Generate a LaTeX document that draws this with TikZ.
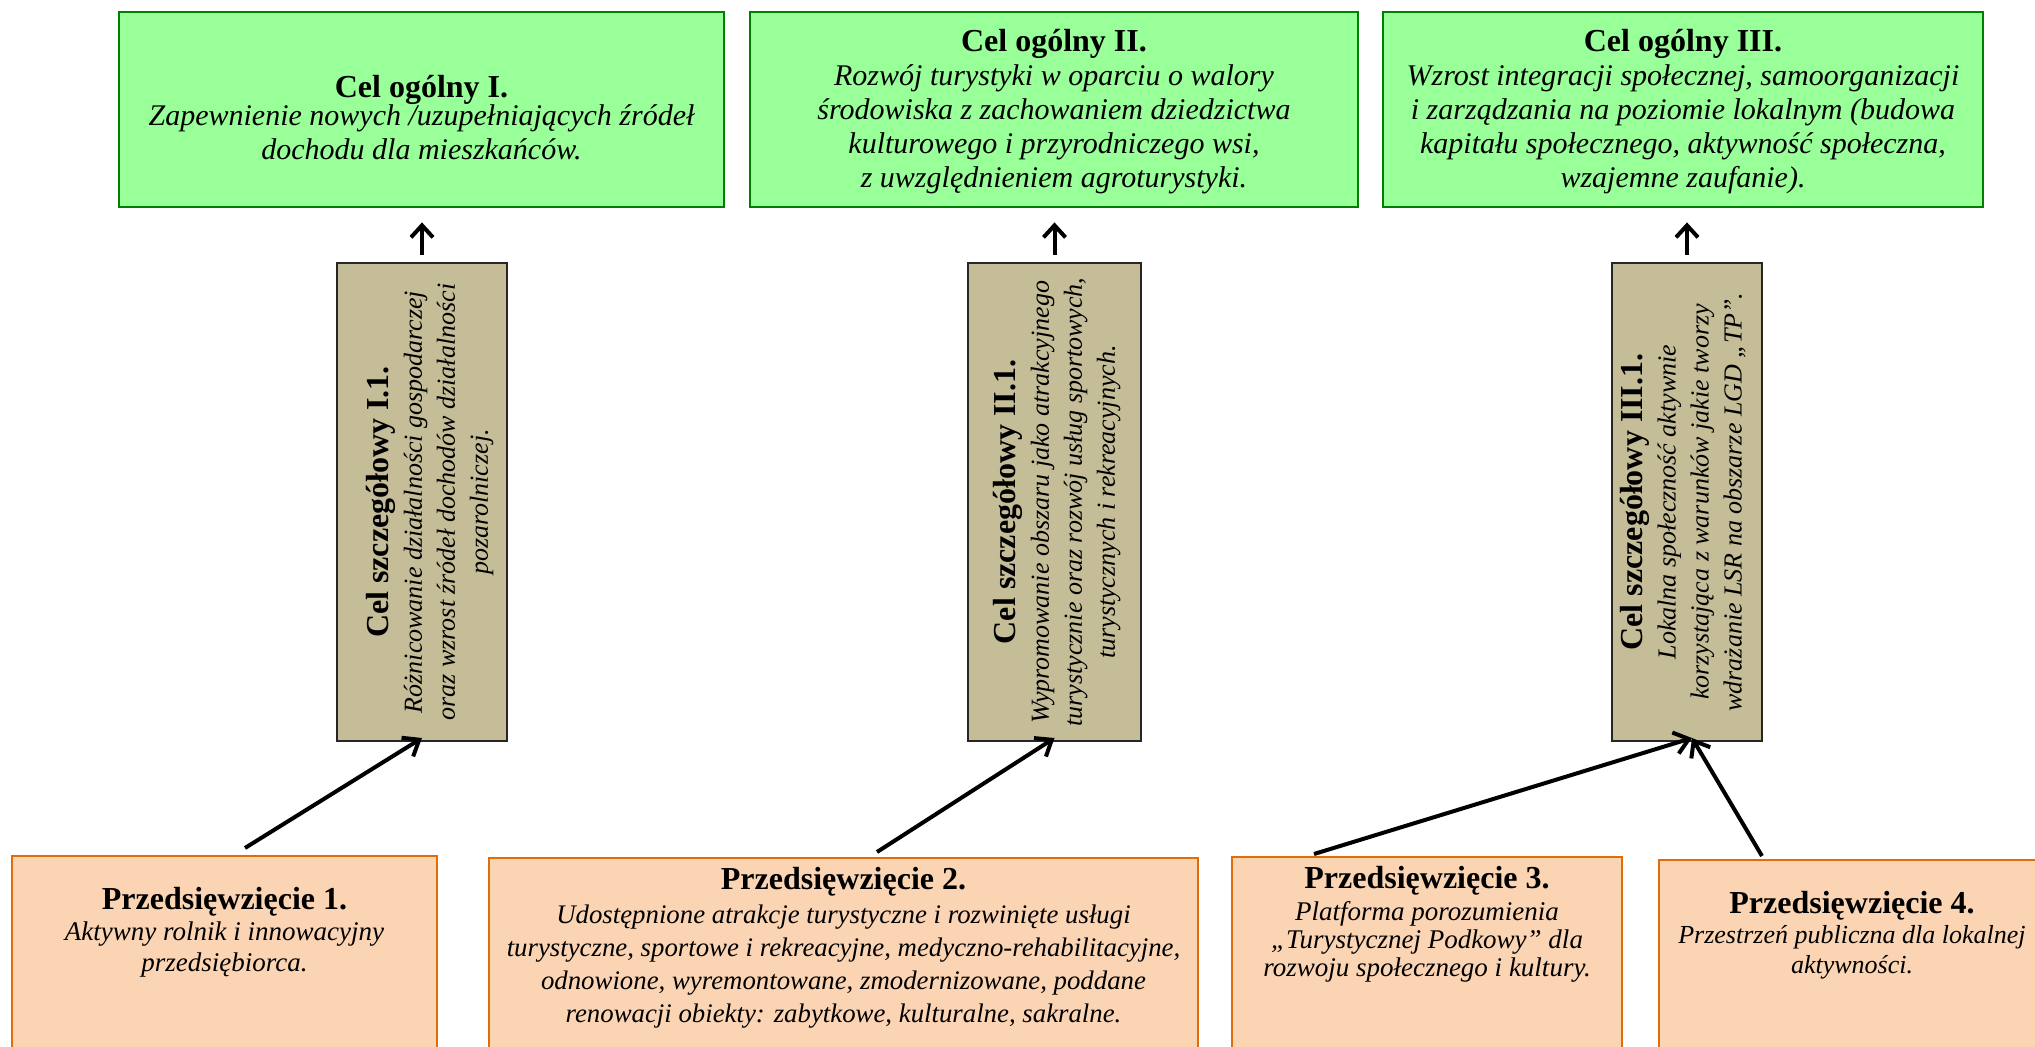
\documentclass[tikz,border=0pt]{standalone}
\usepackage{fontspec}
\setmainfont{Liberation Serif}
\usetikzlibrary{arrows.meta}
\definecolor{gfill}{HTML}{99FF99}
\definecolor{gline}{HTML}{008000}
\definecolor{tfill}{HTML}{C4BD97}
\definecolor{tline}{HTML}{262626}
\definecolor{ofill}{HTML}{FBD4B4}
\definecolor{oline}{HTML}{E36C0A}
\newcommand{\ttl}[1]{{\fontsize{16}{18}\selectfont\bfseries\upshape #1}}
\tikzset{
  gbox/.style={draw=gline, fill=gfill, line width=1.4pt, inner sep=0pt},
  tbox/.style={draw=tline, fill=tfill, line width=1pt, inner sep=0pt},
  obox/.style={draw=oline, fill=ofill, line width=0.8pt, inner sep=0pt},
  txt/.style={align=center, inner sep=0pt},
  uparr/.style={line width=2pt, -{Straight Barb[length=6pt,width=11pt]}},
  diagarr/.style={line width=2pt, -{Straight Barb[length=7pt,width=11pt]}}
}
\begin{document}
\begin{tikzpicture}[x=0.5pt,y=-0.5pt]
\useasboundingbox (0,0) rectangle (2035,1046);
\clip (0,0) rectangle (2035,1046);
\fill[white] (0,0) rectangle (2035,1046);

% general goals
\node[gbox, minimum width=302.5pt, minimum height=97.5pt] (g1) at (421.5,109.5) {};
\node[gbox, minimum width=304pt, minimum height=97.5pt] (g2) at (1054,109.5) {};
\node[gbox, minimum width=300pt, minimum height=97.5pt] (g3) at (1683,109.5) {};
\node[txt, font=\fontsize{15}{17}\selectfont\itshape] (g1t) at (421.5,118)
 {\ttl{Cel ogólny I.}\\[-3pt]Zapewnienie nowych /uzupełniających źródeł\\dochodu dla mieszkańców.};
\node[txt, font=\fontsize{15}{17}\selectfont\itshape] (g2t) at (1054,112)
 {\ttl{Cel ogólny II.}\\Rozwój turystyki w oparciu o walory\\środowiska z zachowaniem dziedzictwa\\kulturowego i przyrodniczego wsi,\\z uwzględnieniem agroturystyki.};
\node[txt, font=\fontsize{15}{17}\selectfont\itshape] (g3t) at (1683,112)
 {\ttl{Cel ogólny III.}\\Wzrost integracji społecznej, samoorganizacji\\i zarządzania na poziomie lokalnym (budowa\\kapitału społecznego, aktywność społeczna,\\wzajemne zaufanie).};

% specific goals
\node[tbox, minimum width=85pt, minimum height=239pt] (t1) at (422,502) {};
\node[tbox, minimum width=86.5pt, minimum height=239pt] (t2) at (1054.5,502) {};
\node[tbox, minimum width=75pt, minimum height=239pt] (t3) at (1687,502) {};
\node[txt, rotate=90, font=\fontsize{13}{16.5}\selectfont\itshape] (t1t) at (430,502)
 {\ttl{Cel szczegółowy I.1.}\\Różnicowanie działalności gospodarczej\\oraz wzrost źródeł dochodów działalności\\pozarolniczej.};
\node[txt, rotate=90, font=\fontsize{13}{16.5}\selectfont\itshape] (t2t) at (1057,502)
 {\ttl{Cel szczegółowy II.1.}\\Wypromowanie obszaru jako atrakcyjnego\\turystycznie oraz rozwój usług sportowych,\\turystycznych i rekreacyjnych.};
\node[txt, rotate=90, font=\fontsize{13}{16.5}\selectfont\itshape] (t3t) at (1683,502)
 {\ttl{Cel szczegółowy III.1.}\\Lokalna społeczność aktywnie\\korzystająca z warunków jakie tworzy\\wdrażanie LSR na obszarze LGD „TP”.};

% projects
\node[obox, minimum width=212.5pt, minimum height=112pt] (o1) at (224.5,968) {};
\node[obox, minimum width=354.5pt, minimum height=111pt] (o2) at (843.5,969) {};
\node[obox, minimum width=195pt, minimum height=111.5pt] (o3) at (1427,968.5) {};
\node[obox, minimum width=199pt, minimum height=110pt] (o4) at (1858,970) {};
\node[txt, font=\fontsize{13.5}{15.5}\selectfont\itshape] (o1t) at (224.5,932)
 {\ttl{Przedsięwzięcie 1.}\\Aktywny rolnik i innowacyjny\\przedsiębiorca.};
\node[txt, font=\fontsize{13.4}{16.6}\selectfont\itshape] (o2t) at (843.5,948)
 {\ttl{Przedsięwzięcie 2.}\\Udostępnione atrakcje turystyczne i rozwinięte usługi\\turystyczne, sportowe i rekreacyjne, medyczno-rehabilitacyjne,\\odnowione, wyremontowane, zmodernizowane, poddane\\renowacji obiekty: zabytkowe, kulturalne, sakralne.};
\node[txt, font=\fontsize{13.5}{14}\selectfont\itshape] (o3t) at (1427,924)
 {\ttl{Przedsięwzięcie 3.}\\[2pt]Platforma porozumienia\\„Turystycznej Podkowy” dla\\rozwoju społecznego i kultury.};
\node[txt, font=\fontsize{13}{15}\selectfont\itshape] (o4t) at (1852,935)
 {\ttl{Przedsięwzięcie 4.}\\Przestrzeń publiczna dla lokalnej\\aktywności.};

% arrows up
\draw[uparr] ([yshift=3.5pt]t1.north) -- ([yshift=-7pt]t1.north |- g1.south);
\draw[uparr] ([yshift=3.5pt]t2.north) -- ([yshift=-7pt]t2.north |- g2.south);
\draw[uparr] ([yshift=3.5pt]t3.north) -- ([yshift=-7pt]t3.north |- g3.south);

% arrows from projects
\coordinate (a1) at (245,848);
\coordinate (a2) at (877,852);
\coordinate (a3) at (1314,854);
\coordinate (a4) at (1762,856);
\draw[diagarr] (a1) -- ([yshift=2pt]t1.south);
\draw[diagarr] (a2) -- ([yshift=2pt]t2.south);
\draw[diagarr] (a3) -- ([xshift=2.5pt,yshift=2pt]t3.south);
\draw[diagarr] (a4) -- ([xshift=2.5pt,yshift=2pt]t3.south);
\end{tikzpicture}
\end{document}
